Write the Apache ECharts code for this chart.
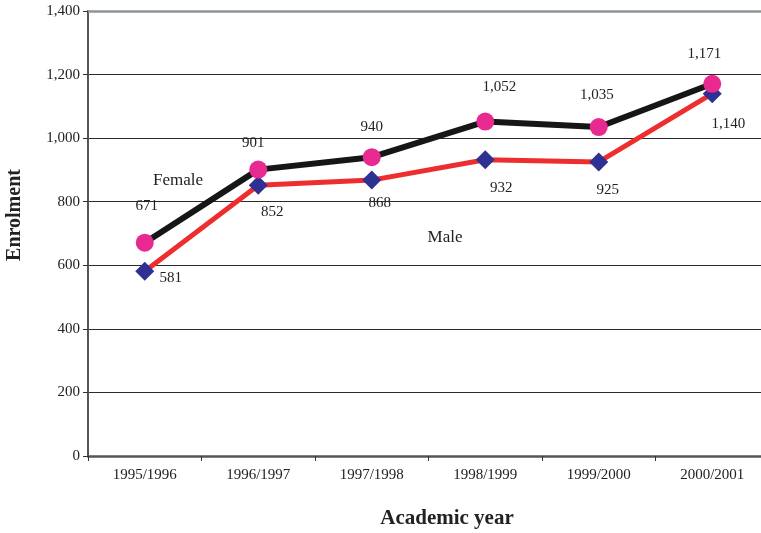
<!DOCTYPE html>
<html>
<head>
<meta charset="utf-8">
<script src="https://cdn.jsdelivr.net/npm/echarts@6/dist/echarts.min.js"></script>
<style>
  html, body { margin: 0; padding: 0; background: #fff; }
  #chart { width: 761px; height: 533px; }
</style>
</head>
<body>
<div id="chart"></div>
<script>
// Academic years on the horizontal axis
const years = ['1995/1996', '1996/1997', '1997/1998', '1998/1999', '1999/2000', '2000/2001'];

// Enrolment by sex
const female = [671, 901, 940, 1052, 1035, 1171];
const male = [581, 852, 868, 932, 925, 1140];

// Vertical axis range
const yMin = 0;
const yMax = 1400;
const yStep = 200;

// Value label nudges relative to each marker (dx, dy in px)
const femaleLabelNudge = [[2, -37], [-5, -27], [0, -30], [14, -35], [-2, -32], [-8, -30]];
const maleLabelNudge = [[26, 7], [14, 27], [8, 23], [16, 28], [9, 28], [16, 30]];

const serif = 'Liberation Serif';
const fmt = v => v.toLocaleString('en-US');

function withLabels(values, nudges) {
  return values.map((v, i) => ({
    value: v,
    label: { offset: nudges[i] }
  }));
}

const chart = echarts.init(document.getElementById('chart'), null, { renderer: 'canvas' });

chart.setOption({
  animation: false,
  backgroundColor: '#ffffff',
  // plot runs slightly past the right edge of the canvas
  grid: { left: 88, top: 11, width: 681, height: 445, containLabel: false, outerBoundsMode: 'none' },
  xAxis: {
    type: 'category',
    data: years,
    boundaryGap: true,
    axisLine: { lineStyle: { color: '#555', width: 2.5 } },
    axisTick: { show: true, length: 5, inside: false, lineStyle: { color: '#333', width: 1 } },
    axisLabel: { color: '#222', fontFamily: serif, fontSize: 15, margin: 12 },
    splitLine: { show: false }
  },
  yAxis: {
    type: 'value',
    min: yMin,
    max: yMax,
    interval: yStep,
    axisLine: { show: true, lineStyle: { color: '#555', width: 2 } },
    axisTick: { show: true, length: 5, lineStyle: { color: '#333', width: 1 } },
    axisLabel: { color: '#222', fontFamily: serif, fontSize: 15, margin: 8, formatter: fmt },
    splitLine: { show: true, lineStyle: { color: '#2a2a2a', width: 1 } }
  },
  graphic: [
    {
      type: 'text', x: 447, y: 519,
      style: { text: 'Academic year', fontFamily: serif, fontWeight: 'bold', fontSize: 21, fill: '#222',
               align: 'center', verticalAlign: 'middle' }
    },
    {
      type: 'text', x: 15, y: 215, rotation: Math.PI / 2,
      style: { text: 'Enrolment', fontFamily: serif, fontWeight: 'bold', fontSize: 20, fill: '#222',
               align: 'center', verticalAlign: 'middle' }
    },
    {
      type: 'text', x: 178, y: 181,
      style: { text: 'Female', fontFamily: serif, fontSize: 17, fill: '#222',
               align: 'center', verticalAlign: 'middle' }
    },
    {
      type: 'text', x: 445, y: 238,
      style: { text: 'Male', fontFamily: serif, fontSize: 17, fill: '#222',
               align: 'center', verticalAlign: 'middle' }
    }
  ],
  series: [
    {
      name: 'Male',
      type: 'line',
      data: withLabels(male, maleLabelNudge),
      lineStyle: { color: '#ee2e2e', width: 5 },
      symbol: 'diamond',
      symbolSize: 19,
      itemStyle: { color: '#2e3192' },
      label: {
        show: true, position: 'inside', color: '#222', fontFamily: serif, fontSize: 15,
        formatter: p => fmt(p.value)
      },
      z: 3,
      markLine: {
        silent: true,
        symbol: 'none',
        label: { show: false },
        lineStyle: { color: '#8c9499', width: 2.5, type: 'solid' },
        data: [{ yAxis: yMax }]
      }
    },
    {
      name: 'Female',
      type: 'line',
      data: withLabels(female, femaleLabelNudge),
      lineStyle: { color: '#161616', width: 6 },
      symbol: 'circle',
      symbolSize: 18,
      itemStyle: { color: '#e8298f' },
      label: {
        show: true, position: 'inside', color: '#222', fontFamily: serif, fontSize: 15,
        formatter: p => fmt(p.value)
      },
      z: 4
    }
  ]
});
</script>
</body>
</html>
